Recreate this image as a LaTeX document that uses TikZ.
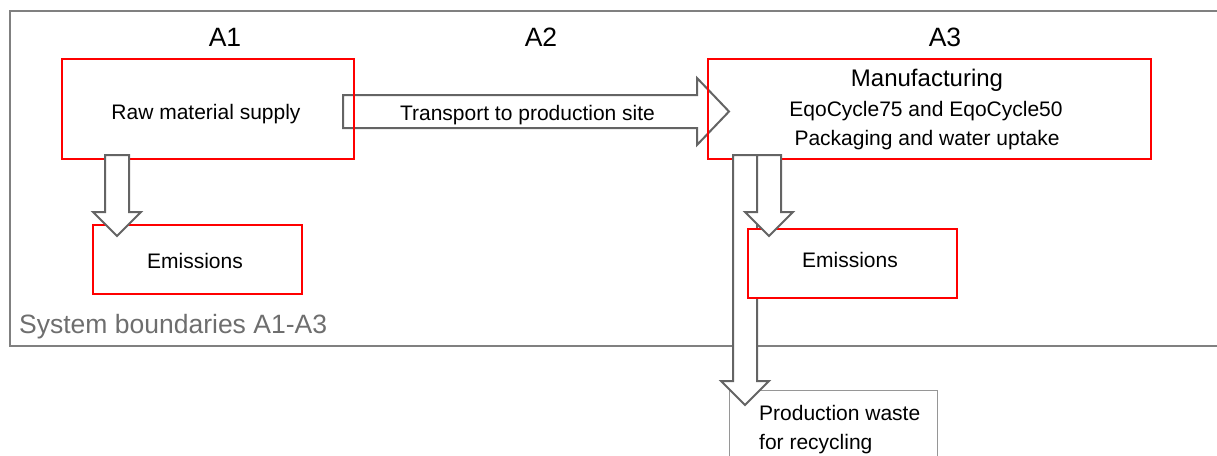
\documentclass[tikz,border=0pt]{standalone}
\usepackage{fontspec}
\setmainfont{Liberation Sans}
\definecolor{arrowgray}{RGB}{100,100,100}
\definecolor{bordergray}{RGB}{128,128,128}
\definecolor{lightgray2}{RGB}{150,150,150}
\definecolor{textgray}{RGB}{110,110,110}
\newcommand\vblock[4]{\draw[blockarrow] (#1-12,#2) -- (#1+12,#2) -- (#1+12,#3) -- (#1+24,#3) -- (#1,#4) -- (#1-24,#3) -- (#1-12,#3) -- cycle;}
\begin{document}
\begin{tikzpicture}[x=1pt,y=-1pt,
  redbox/.style={draw=red, line width=2pt, inner sep=0pt},
  blockarrow/.style={draw=arrowgray, line width=2pt, fill=white, line join=miter},
  lbl/.style={font=\fontsize{21}{25}\selectfont, inner sep=0pt, anchor=base},
  big/.style={font=\fontsize{26.5}{30}\selectfont, inner sep=0pt, anchor=base}]
\useasboundingbox (0,0) rectangle (1217,455);
\clip (0,0) rectangle (1217,455);
% system boundary
\draw[bordergray, line width=2.5pt] (1240,11) -- (10,11) -- (10,346) -- (1240,346);
\node[big, anchor=base west, text=textgray] (sys) at (19,333) {System boundaries A1-A3};
\node[big] (a1) at (225,46) {A1};
\node[big] (a2) at (541,46) {A2};
\node[big] (a3) at (945,46) {A3};
% transport arrow
\draw[blockarrow] (343,95) -- (697,95) -- (697,78) -- (729,111.5) -- (697,145) -- (697,128) -- (343,128) -- cycle;
\node[lbl] (tr) at (527.5,120) {Transport to production site};
% boxes
\node[redbox, minimum width=292pt, minimum height=100pt] (raw) at (208,109) {};
\node[lbl] (rawt) at (206,119) {Raw material supply};
\node[redbox, minimum width=443pt, minimum height=100pt] (man) at (929.5,109) {};
\node[redbox, minimum width=209pt, minimum height=69pt] (emL) at (197.5,259.5) {};
\node[lbl] (emLt) at (195,268) {Emissions};
\node[draw=lightgray2, line width=1pt, minimum width=208pt, minimum height=80pt, inner sep=0pt] (waste) at (833,430) {};
\node[lbl, anchor=base west] (w1) at (759,420) {Production waste};
\node[lbl, anchor=base west] (w2) at (759,449) {for recycling};
% arrows down
\vblock{117}{155}{212}{236}
\vblock{745}{155}{381}{405}
\node[redbox, fill=white, minimum width=209pt, minimum height=69pt] (emR) at (852.5,263.5) {};
\node[lbl] (emRt) at (850,267) {Emissions};
\vblock{769}{155}{212}{236}
% manufacturing text
\node[lbl, font=\fontsize{24}{28}\selectfont] (m1) at (927,86.5) {Manufacturing};
\node[lbl] (m2) at (926,116) {EqoCycle75 and EqoCycle50};
\node[lbl] (m3) at (927,145) {Packaging and water uptake};
\end{tikzpicture}
\end{document}
